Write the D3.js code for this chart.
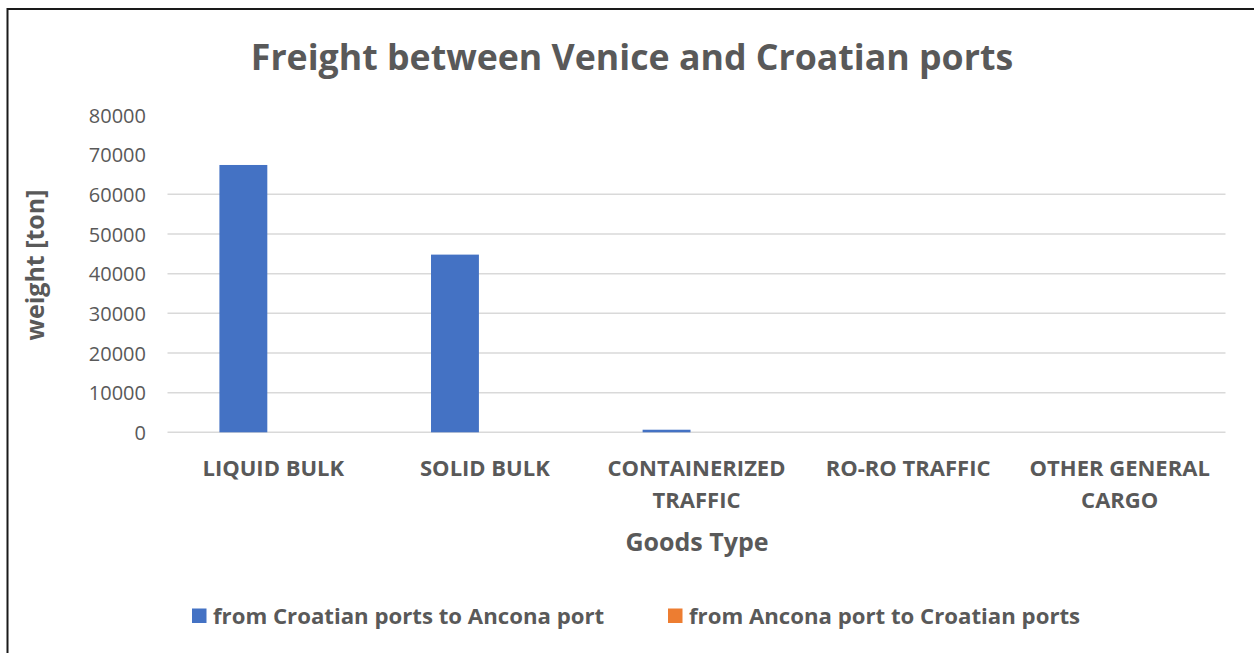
<!DOCTYPE html>
<html>
<head>
<meta charset="utf-8">
<script src="https://cdn.jsdelivr.net/npm/d3@7"></script>
<style>
  html, body { margin: 0; padding: 0; background: #ffffff; }
  svg { display: block; }
  text { font-family: "Open Sans", "Noto Sans", sans-serif; fill: #595959; }
</style>
</head>
<body>
<svg id="chart" width="1254" height="653"></svg>
<script>
// Goods categories (two-line labels split on "\n")
const categories = ["LIQUID BULK", "SOLID BULK", "CONTAINERIZED\nTRAFFIC", "RO-RO TRAFFIC", "OTHER GENERAL\nCARGO"];
const seriesNames = ["from Croatian ports to Ancona port", "from Ancona port to Croatian ports"];
// weight in tons
const croatiaToAncona = [67400, 44800, 650, 0, 0];
const anconaToCroatia = [0, 0, 0, 0, 0];
const yTicks = [0, 10000, 20000, 30000, 40000, 50000, 60000, 70000, 80000];
const seriesColors = ["#4472C4", "#ED7D31"];

const svg = d3.select("#chart");
const W = 1254, H = 653;
const plot = { left: 167.5, right: 1225.5, top: 115, bottom: 432.3 };

// outer frame
svg.append("rect")
  .attr("x", 7.5).attr("y", 9)
  .attr("width", W + 20).attr("height", H + 20)
  .attr("fill", "none").attr("stroke", "#1a1a1a").attr("stroke-width", 2);

const x0 = d3.scaleBand().domain(categories).range([plot.left, plot.right]).paddingInner(0).paddingOuter(0);
const x1 = d3.scaleBand().domain(seriesNames).range([0, x0.bandwidth()]).paddingInner(0.2).paddingOuter(0.867);
const y = d3.scaleLinear().domain([0, 80000]).range([plot.bottom, plot.top]);

// horizontal gridlines
svg.append("g")
  .selectAll("line")
  .data(yTicks.filter(t => t <= 60000))
  .join("line")
  .attr("x1", plot.left).attr("x2", plot.right)
  .attr("y1", d => y(d)).attr("y2", d => y(d))
  .attr("stroke", "#d9d9d9").attr("stroke-width", 1.5);

// y axis labels
const yAxis = d3.axisLeft(y).tickValues(yTicks).tickSize(0).tickPadding(0).tickFormat(d3.format("d"));
const gy = svg.append("g").attr("transform", "translate(146,0)").call(yAxis);
gy.select(".domain").remove();
gy.selectAll("text")
  .attr("font-family", "Open Sans")
  .attr("font-size", 20)
  .attr("fill", "#595959")
  .attr("dy", "0.36em");

// bars
const rows = categories.map((c, i) => ({ cat: c, vals: [croatiaToAncona[i], anconaToCroatia[i]] }));
svg.append("g")
  .selectAll("g")
  .data(rows)
  .join("g")
  .attr("transform", d => `translate(${x0(d.cat)},0)`)
  .selectAll("rect")
  .data(d => d.vals.map((v, k) => ({ s: seriesNames[k], v, k })))
  .join("rect")
  .attr("x", d => x1(d.s))
  .attr("width", x1.bandwidth())
  .attr("y", d => y(d.v))
  .attr("height", d => y(0) - y(d.v))
  .attr("fill", d => seriesColors[d.k]);

// x axis category labels
const xl = svg.append("g");
categories.forEach(c => {
  const lines = c.split("\n");
  const t = xl.append("text")
    .attr("text-anchor", "middle")
    .attr("font-size", 22)
    .attr("font-weight", 700)
    .attr("y", 476);
  lines.forEach((ln, i) => {
    t.append("tspan")
      .attr("x", x0(c) + x0.bandwidth() / 2)
      .attr("dy", i === 0 ? 0 : 32)
      .text(ln);
  });
});

// title
svg.append("text")
  .attr("x", 632).attr("y", 70)
  .attr("text-anchor", "middle")
  .attr("font-size", 35.7)
  .attr("font-weight", 700)
  .text("Freight between Venice and Croatian ports");

// axis titles
svg.append("text")
  .attr("x", 697).attr("y", 551)
  .attr("text-anchor", "middle")
  .attr("font-size", 25)
  .attr("font-weight", 700)
  .text("Goods Type");

svg.append("text")
  .attr("transform", "translate(44,265) rotate(-90)")
  .attr("text-anchor", "middle")
  .attr("font-size", 25)
  .attr("font-weight", 700)
  .text("weight [ton]");

// legend
const legendX = [192, 668];
const lg = svg.append("g");
seriesNames.forEach((s, i) => {
  lg.append("rect")
    .attr("x", legendX[i]).attr("y", 608.5)
    .attr("width", 14.5).attr("height", 14.5)
    .attr("fill", seriesColors[i]);
  lg.append("text")
    .attr("x", legendX[i] + 21).attr("y", 624)
    .attr("font-size", 22.2)
    .attr("font-weight", 700)
    .text(s);
});
</script>
</body>
</html>
